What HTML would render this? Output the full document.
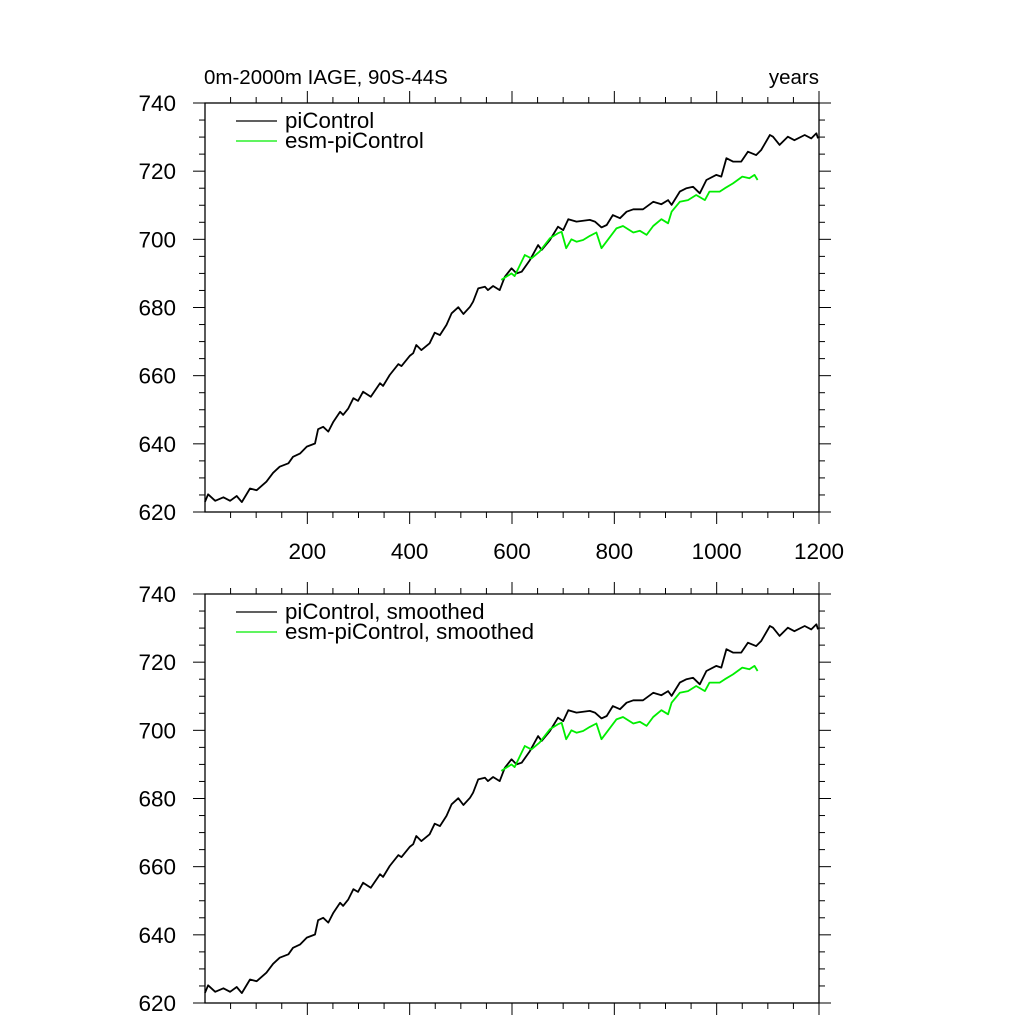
<!DOCTYPE html>
<html><head><meta charset="utf-8"><style>
html,body{margin:0;padding:0;background:#fff}
svg{display:block;font-family:"Liberation Sans",Arial,sans-serif}
</style></head><body>
<svg id="chart" width="1024" height="1024" viewBox="0 0 1024 1024" xmlns="http://www.w3.org/2000/svg">
<text x="204" y="84" font-size="20.5">0m-2000m IAGE, 90S-44S</text>
<text x="819" y="84" font-size="20.5" text-anchor="end">years</text>
</svg>
<script>
const xTickLabels = [200, 400, 600, 800, 1000, 1200];
const yTickLabels = [620, 640, 660, 680, 700, 720, 740];
const piYears = [0,6,20,36,49,62,72,88,101,120,133,146,163,172,186,199,215,221,231,241,251,264,270,280,290,299,309,324,342,348,361,378,384,400,407,413,423,439,449,459,472,482,495,505,518,524,534,547,553,563,576,586,599,609,619,635,651,658,674,690,700,710,726,752,762,775,785,797,811,824,837,856,876,892,905,912,928,941,954,967,980,999,1009,1019,1032,1048,1061,1077,1087,1104,1110,1123,1139,1152,1172,1185,1195,1198];
const piValues = [623.0,625.2,623.3,624.3,623.3,624.7,622.9,626.9,626.4,628.9,631.5,633.3,634.3,636.2,637.2,639.2,640.1,644.3,645.0,643.6,646.5,649.4,648.5,650.4,653.4,652.6,655.3,653.8,657.8,657.0,660.2,663.4,662.8,665.8,666.6,669.0,667.5,669.5,672.6,671.9,674.9,678.3,680.1,678.1,680.2,681.7,685.6,686.1,685.1,686.3,685.1,689.0,691.5,690.0,690.5,693.9,698.3,696.9,699.8,703.7,702.7,705.9,705.2,705.7,705.2,703.5,704.2,707.1,706.2,708.1,708.8,708.8,711.0,710.3,711.5,710.1,714.0,715.0,715.4,713.5,717.4,718.9,718.4,723.8,722.8,722.8,725.7,724.7,726.2,730.6,730.1,727.7,730.1,729.1,730.6,729.6,731.1,729.6];
const esmYears = [579,599,605,625,638,654,674,690,697,706,716,726,739,752,765,775,788,804,817,837,850,863,876,892,905,912,928,944,960,977,986,1006,1016,1032,1050,1064,1074,1080];
const esmValues = [688.1,690.0,689.2,695.4,694.4,696.4,700.3,701.8,702.2,697.4,700.0,699.3,699.8,701.0,702.0,697.4,700.0,703.2,703.9,702.0,702.5,701.3,703.9,705.9,704.7,708.1,711.0,711.5,713.0,711.5,714.0,714.0,715.0,716.4,718.4,717.9,718.9,717.4];
const piSmoothValues = piValues.slice();
const esmSmoothValues = esmValues.slice();

const NS = 'http://www.w3.org/2000/svg';
const svg = document.getElementById('chart');
const X0 = 205, X1 = 819, XMIN = 0, XMAX = 1200, YMIN = 620, YMAX = 740;
function mk(tag, attrs, parent) {
  const e = document.createElementNS(NS, tag);
  for (const k in attrs) e.setAttribute(k, attrs[k]);
  (parent || svg).appendChild(e);
  return e;
}
function xs(v) { return X0 + (v - XMIN) / (XMAX - XMIN) * (X1 - X0); }

function panel(top, bottom, label, showXLabels, s1, s2, legendNames) {
  const ys = v => bottom - (v - YMIN) / (YMAX - YMIN) * (bottom - top);
  const g = mk('g', {});
  
  
  const frame = mk('rect', {x: X0, y: top, width: X1 - X0, height: bottom - top, fill: 'none', stroke: '#000', 'stroke-width': 1.3}, g);
  
  
  for (let yr = 50; yr <= XMAX; yr += 50) {
    const major = yr % 200 === 0;
    const L = major ? 12 : 6;
    const x = xs(yr);
    const t1 = mk('line', {x1: x, x2: x, y1: bottom, y2: bottom + L, stroke: '#000', 'stroke-width': 1}, g);
    
    
    const t2 = mk('line', {x1: x, x2: x, y1: top, y2: top - L, stroke: '#000', 'stroke-width': 1}, g);
    
    
  }
  if (showXLabels) {
    xTickLabels.forEach(v => {
      const t = mk('text', {x: xs(v), y: bottom + 47, 'font-size': 22.5, 'text-anchor': 'middle'}, g);
      t.textContent = v;
      
      
    });
  }
  for (let v = YMIN; v <= YMAX; v += 5) {
    const major = v % 20 === 0;
    const L = major ? 12 : 6;
    const y = ys(v);
    const t1 = mk('line', {x1: X0, x2: X0 - L, y1: y, y2: y, stroke: '#000', 'stroke-width': 1}, g);
    
    
    const t2 = mk('line', {x1: X1, x2: X1 + L, y1: y, y2: y, stroke: '#000', 'stroke-width': 1}, g);
    
    
  }
  yTickLabels.forEach(v => {
    const t = mk('text', {x: 176, y: ys(v) + 8, 'font-size': 22.5, 'text-anchor': 'end'}, g);
    t.textContent = v;
    
    
  });
  [[s1, '#000', 'picontrol-line'], [s2, '#00ee00', 'esm-picontrol-line']].forEach(([s, c, n]) => {
    const d = s[0].map((yr, i) => (i ? 'L' : 'M') + xs(yr).toFixed(1) + ' ' + ys(s[1][i]).toFixed(1)).join(' ');
    const p = mk('path', {d: d, fill: 'none', stroke: c, 'stroke-width': 1.8, 'stroke-linejoin': 'round'}, g);
    
    
  });
  [['#000', legendNames[0]], ['#00ee00', legendNames[1]]].forEach(([c, txt], i) => {
    const y = top + 18 + i * 20;
    const l = mk('line', {x1: 236, x2: 277, y1: y, y2: y, stroke: c, 'stroke-width': 1.3}, g);
    
    
    const t = mk('text', {x: 285, y: y + 7, 'font-size': 22.3}, g);
    t.textContent = txt;
    
    
  });
}
panel(103, 512, 'raw-panel', true, [piYears, piValues], [esmYears, esmValues], ['piControl', 'esm-piControl']);
panel(594, 1003, 'smoothed-panel', false, [piYears, piSmoothValues], [esmYears, esmSmoothValues], ['piControl, smoothed', 'esm-piControl, smoothed']);
</script>
</body></html>
